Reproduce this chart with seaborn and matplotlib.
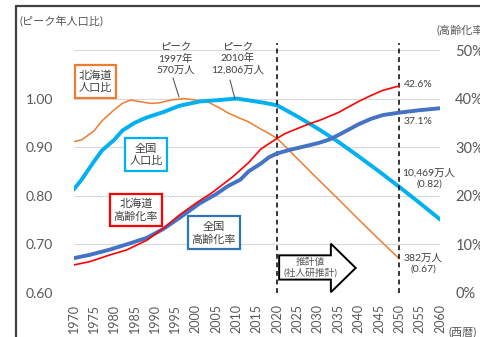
import numpy as np
import pandas as pd
import matplotlib
matplotlib.use("Agg")
import matplotlib.pyplot as plt
from matplotlib.lines import Line2D
from matplotlib.patches import Polygon
import seaborn as sns

# ---------------- data ----------------
hk_pop_years = [1970, 1972, 1975, 1977, 1980, 1982, 1984, 1986, 1989, 1991, 1994, 1997, 1999,
                2003, 2006, 2008, 2011, 2013, 2016, 2018, 2020,
                2025, 2030, 2035, 2040, 2045, 2050]
hk_pop_ratio = [0.911, 0.915, 0.933, 0.954, 0.977, 0.990, 0.997, 0.994, 0.990, 0.991, 0.997, 1.000, 0.998,
                0.993, 0.980, 0.970, 0.959, 0.952, 0.937, 0.928, 0.918,
                0.876, 0.834, 0.793, 0.751, 0.710, 0.670]

jp_pop_years = [1970, 1972, 1975, 1977, 1980, 1982, 1985, 1988, 1992, 1996, 2001, 2006, 2010,
                2014, 2017, 2020, 2025, 2030, 2035, 2040, 2045, 2050, 2055, 2060]
jp_pop_ratio = [0.812, 0.833, 0.870, 0.893, 0.915, 0.934, 0.950, 0.961, 0.972, 0.985, 0.994, 0.997, 1.000,
                0.995, 0.991, 0.986, 0.963, 0.938, 0.911, 0.881, 0.850, 0.818, 0.785, 0.751]

jp_age_years = [1970, 1974, 1979, 1984, 1988, 1992, 1996, 2001, 2005, 2008, 2011, 2013, 2016, 2018,
                2020, 2023, 2027, 2030, 2033, 2036, 2040, 2043, 2046, 2050, 2055, 2060]
jp_aging = [7.1, 7.8, 8.9, 10.2, 11.3, 13.1, 15.4, 18.4, 20.3, 22.0, 23.3, 25.0, 26.6, 27.9,
            28.7, 29.4, 30.2, 30.8, 31.6, 32.9, 34.7, 35.8, 36.6, 37.1, 37.6, 38.0]

hk_age_years = [1970, 1974, 1979, 1983, 1988, 1992, 1996, 2000, 2004, 2009, 2013, 2016, 2020,
                2022, 2027, 2031, 2035, 2040, 2043, 2046, 2050]
hk_aging = [5.7, 6.4, 7.8, 8.8, 10.8, 13.2, 16.0, 18.4, 20.6, 23.8, 26.8, 29.6, 31.8,
            32.8, 34.5, 35.7, 37.1, 39.4, 40.6, 41.7, 42.6]

x_ticks = list(range(1970, 2061, 5))
left_ticks = [0.60, 0.70, 0.80, 0.90, 1.00]
right_ticks = [0, 10, 20, 30, 40, 50]

# ---------------- style ----------------
sns.set_style("white")
FAM = ["Lato", "Noto Sans CJK JP", "DejaVu Sans"]
plt.rcParams["font.family"] = FAM
GRAY = "#595959"

C_HK_POP = "#ED7D31"
C_JP_POP = "#00B0F0"
C_HK_AGE = "#FF0000"
C_JP_AGE = "#4472C4"

W, H = 481, 337
fig = plt.figure(figsize=(W / 100, H / 100), dpi=100)
fig.patch.set_facecolor("white")

def fx(x):
    return x / W

def fy(y):
    return 1 - y / H

L, R, T, B = 73.5, 440.0, 50.0, 292.7
ax = fig.add_axes([fx(L), fy(B), fx(R) - fx(L), fy(T) - fy(B)])
ax.set_xlim(1970, 2060)
ax.set_ylim(0.60, 1.10)
ax2 = ax.twinx()
ax2.set_ylim(0, 50)

for a in (ax, ax2):
    for s in a.spines.values():
        s.set_visible(False)
    a.set_facecolor("none")

# gridlines
for v in [0.60, 0.70, 0.80, 0.90, 1.00, 1.10]:
    ax.axhline(v, color="#D9D9D9", lw=0.8, zorder=0)

# lines
sns.lineplot(x=hk_pop_years, y=hk_pop_ratio, ax=ax, color=C_HK_POP, lw=1.1, zorder=3)
sns.lineplot(x=jp_pop_years, y=jp_pop_ratio, ax=ax, color=C_JP_POP, lw=2.8, zorder=4)
sns.lineplot(x=jp_age_years, y=jp_aging, ax=ax2, color=C_JP_AGE, lw=2.8, zorder=3)
sns.lineplot(x=hk_age_years, y=hk_aging, ax=ax2, color=C_HK_AGE, lw=1.2, zorder=4)

# ticks
ax.set_xticks(x_ticks)
ax.set_xticklabels([str(t) for t in x_ticks], rotation=90, fontsize=9, color=GRAY)
ax.set_yticks(left_ticks)
ax.set_yticklabels([f"{v:.2f}" for v in left_ticks], fontsize=10, color=GRAY)
ax2.set_yticks(right_ticks)
ax2.set_yticklabels([f"{v}%" for v in right_ticks], fontsize=10.5, color=GRAY)
ax.tick_params(axis="x", length=0, pad=8)
ax.tick_params(axis="y", length=0, pad=14.5)
ax2.tick_params(axis="y", length=0, pad=11)
ax.set_xlabel("")
ax.set_ylabel("")
ax2.set_ylabel("")

# dashed vertical lines
for yr in (2020, 2050):
    ax.plot([yr, yr], [0.60, 1.114], color="black", lw=1.1, ls=(0, (3.2, 2.4)),
            clip_on=False, zorder=5)

# projection arrow
arrow = Polygon([(2020.5, 0.627), (2033.2, 0.627), (2033.2, 0.601), (2039.3, 0.651),
                 (2033.2, 0.701), (2033.2, 0.677), (2020.5, 0.677)],
                closed=True, facecolor="white", edgecolor="black", lw=1.4,
                clip_on=False, zorder=6)
ax.add_patch(arrow)
fig.text(fx(310), fy(267.5), "推計値\n(社人研推計)", ha="center", va="center",
         fontsize=7, color=GRAY, linespacing=1.15, zorder=7)

# axis titles
fig.text(fx(20), fy(22), "(ピーク年人口比)", ha="left", va="center", fontsize=8, color=GRAY)
fig.text(fx(437), fy(30), "(高齢化率)", ha="left", va="center", fontsize=8, color=GRAY)
fig.text(fx(449), fy(332), "(西暦)", ha="left", va="center", fontsize=8, color=GRAY)

# peak annotations
fig.text(fx(175.5), fy(58.5), "ピーク\n1997年\n570万人", ha="center", va="center",
         fontsize=7.5, color="#404040", linespacing=1.25)
fig.text(fx(238), fy(58.5), "ピーク\n2010年\n12,806万人", ha="center", va="center",
         fontsize=7.5, color="#404040", linespacing=1.25)
fig.add_artist(Line2D([fx(173), fx(179)], [fy(78), fy(97)], color=GRAY, lw=0.8))
fig.add_artist(Line2D([fx(230), fx(235)], [fy(80), fy(99)], color=GRAY, lw=0.8))

# series label boxes
def box(x, y, s, ec):
    fig.text(fx(x), fy(y), s, ha="center", va="center", fontsize=8, color="#404040",
             linespacing=1.2, multialignment="center",
             bbox=dict(boxstyle="square,pad=0.38", facecolor="white", edgecolor=ec, lw=1.6))

box(95.5, 81.5, "北海道\n人口比", C_HK_POP)
box(146, 154.5, "全国\n人口比", C_JP_POP)
box(136, 210, "北海道\n高齢化率", C_HK_AGE)
box(214, 232.5, "全国\n高齢化率", "#2E75B6")

# end labels
fig.text(fx(404), fy(85), "42.6%", ha="left", va="center", fontsize=7.5, color="#404040")
fig.text(fx(404), fy(121), "37.1%", ha="left", va="center", fontsize=7.5, color="#404040")
fig.text(fx(429), fy(178.5), "10,469万人\n(0.82)", ha="center", va="center",
         fontsize=7.5, color="#404040", linespacing=1.15)
fig.text(fx(423), fy(263.5), "382万人\n(0.67)", ha="center", va="center",
         fontsize=7.5, color="#404040", linespacing=1.15)

# outer frame
fig.add_artist(Line2D([fx(16), fx(481)], [fy(6), fy(6)], color="#404040", lw=1.6))
fig.add_artist(Line2D([fx(16), fx(16)], [fy(6), fy(337)], color="#404040", lw=1.6))

fig.savefig("out.png", dpi=100)
